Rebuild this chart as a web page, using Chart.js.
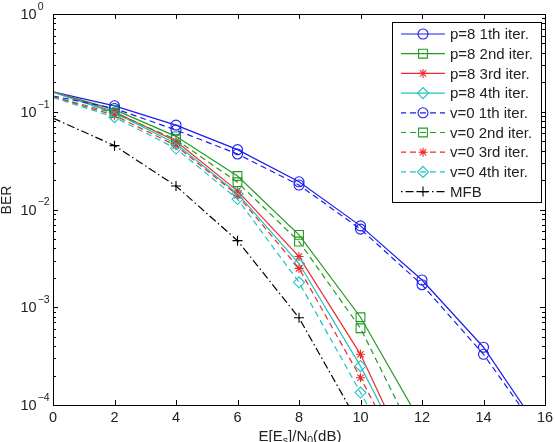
<!DOCTYPE html>
<html>
<head>
<meta charset="utf-8">
<script src="https://cdn.jsdelivr.net/npm/chart.js@4/dist/chart.umd.min.js"></script>
<style>
  html, body { margin: 0; padding: 0; background: #fff; }
  #wrap { width: 555px; height: 442px; }
</style>
</head>
<body>
<div id="wrap"><canvas id="ber"></canvas></div>
<script>
// E[Es]/N0 in dB, one point every 2 dB
const snrDb = [0, 2, 4, 6, 8, 10, 12, 14, 16];

// BER (values under 1e-4 only set the slope leaving the axes)
const p8Iter1 = [0.16, 0.115, 0.073, 0.041, 0.0192, 0.0068, 0.0019, 3.9e-4, 4.6e-5];
const p8Iter2 = [0.16, 0.105, 0.056, 0.022, 0.0055, 7.9e-4, 6.3e-5];
const p8Iter3 = [0.16, 0.100, 0.050, 0.0155, 0.0033, 3.3e-4, 1.5e-5];
const p8Iter4 = [0.158, 0.098, 0.047, 0.0145, 0.0028, 2.5e-4, 1.5e-5];
const v0Iter1 = [0.145, 0.108, 0.065, 0.037, 0.0178, 0.0063, 0.0017, 3.3e-4, 4.3e-5];
const v0Iter2 = [0.142, 0.097, 0.052, 0.019, 0.0047, 6.1e-4, 3.3e-5];
const v0Iter3 = [0.142, 0.092, 0.045, 0.014, 0.0025, 1.9e-4, 1.2e-5];
const v0Iter4 = [0.140, 0.088, 0.042, 0.0128, 0.0018, 1.34e-4, 1.0e-5];
const mfb     = [0.086, 0.045, 0.0174, 0.0048, 7.8e-4, 6.0e-5];

const xTicks = [0, 2, 4, 6, 8, 10, 12, 14, 16];
const yExponents = [0, -1, -2, -3, -4];

const FONT = '"Liberation Sans", Arial, sans-serif';
const BLUE = '#1c1cf0', GREEN = '#249a24', RED = '#f02a2a', CYAN = '#1fc2c2';
const DASH = [6, 4], DASHDOT = [8, 3, 1.5, 3];

function series(label, values, color, dash, style, radius) {
  return {
    label: label,
    data: values.map((v, i) => ({ x: snrDb[i], y: v })),
    borderColor: color,
    borderWidth: 1.2,
    borderDash: dash,
    pointStyle: style,
    pointRadius: c => c.dataIndex === 0 ? 0 : radius,
    pointBorderColor: color,
    pointBackgroundColor: 'rgba(0,0,0,0)',
    pointBorderWidth: 1.1,
    tension: 0
  };
}

const datasets = [
  series('p=8 1th iter.', p8Iter1, BLUE, [], 'circle', 5),
  series('p=8 2nd iter.', p8Iter2, GREEN, [], 'rect', 6.2),
  series('p=8 3rd iter.', p8Iter3, RED, [], 'star', 4.5),
  series('p=8 4th iter.', p8Iter4, CYAN, [], 'rectRot', 5.5),
  series('v=0 1th iter.', v0Iter1, BLUE, DASH, 'circle', 5),
  series('v=0 2nd iter.', v0Iter2, GREEN, DASH, 'rect', 6.2),
  series('v=0 3rd iter.', v0Iter3, RED, DASH, 'star', 4.5),
  series('v=0 4th iter.', v0Iter4, CYAN, DASH, 'rectRot', 5.5),
  series('MFB', mfb, '#000000', DASHDOT, 'cross', 5)
];
// later series on top, as in the original plot
datasets.forEach((d, i) => { d.order = datasets.length - i; });

const axesDecor = {
  id: 'axesDecor',
  afterDraw(chart) {
    const { ctx, chartArea: a, scales: { x, y } } = chart;
    ctx.save();
    ctx.setLineDash([]);
    ctx.strokeStyle = '#000';
    ctx.fillStyle = '#000';
    ctx.lineWidth = 1;

    // ticks pointing inwards on all four sides
    ctx.beginPath();
    xTicks.forEach(t => {
      const px = Math.round(x.getPixelForValue(t)) + 0.5;
      ctx.moveTo(px, a.bottom); ctx.lineTo(px, a.bottom - 5);
      ctx.moveTo(px, a.top); ctx.lineTo(px, a.top + 5);
    });
    for (let e = -4; e <= 0; e++) {
      for (let m = 1; m <= 9; m++) {
        if (e === 0 && m > 1) break;
        const py = Math.round(y.getPixelForValue(m * Math.pow(10, e))) + 0.5;
        const len = m === 1 ? 5 : 3;
        ctx.moveTo(a.left, py); ctx.lineTo(a.left + len, py);
        ctx.moveTo(a.right, py); ctx.lineTo(a.right - len, py);
      }
    }
    ctx.stroke();
    ctx.strokeRect(Math.round(a.left) + 0.5, Math.round(a.top) + 0.5,
                   Math.round(a.right - a.left), Math.round(a.bottom - a.top));

    // x tick labels
    ctx.fillStyle = '#222';
    ctx.font = '14.5px ' + FONT;
    ctx.textAlign = 'center';
    ctx.textBaseline = 'middle';
    xTicks.forEach(t => ctx.fillText(String(t), x.getPixelForValue(t), 418));

    // y tick labels 10^e
    yExponents.forEach(e => {
      const py = y.getPixelForValue(Math.pow(10, e));
      ctx.font = '14.5px ' + FONT;
      ctx.textAlign = 'left';
      ctx.textBaseline = 'middle';
      ctx.fillText('10', 20.5, py + 1);
      const w = ctx.measureText('10').width;
      ctx.font = '10.5px ' + FONT;
      ctx.fillText(e === 0 ? '0' : '\u2212' + Math.abs(e), 20.5 + w + 1, py - 7);
    });

    // x axis title with subscripts
    const parts = [['E[E', 0], ['s', 1], [']/N', 0], ['0', 1], ['(dB)', 0]];
    const big = '15px ' + FONT, small = '10.5px ' + FONT;
    let total = 0;
    parts.forEach(p => {
      ctx.font = p[1] ? small : big;
      total += ctx.measureText(p[0]).width;
    });
    let cx = 300 - total / 2;
    ctx.textAlign = 'left';
    ctx.textBaseline = 'alphabetic';
    parts.forEach(p => {
      ctx.font = p[1] ? small : big;
      ctx.fillText(p[0], cx, p[1] ? 444 : 441);
      cx += ctx.measureText(p[0]).width;
    });

    // y axis title
    ctx.save();
    ctx.translate(11, 200);
    ctx.rotate(-Math.PI / 2);
    ctx.font = '14px ' + FONT;
    ctx.textAlign = 'center';
    ctx.fillText('BER', 0, 0);
    ctx.restore();

    // legend box
    const bx = 392, by = 22, bw = 149, bh = 180;
    ctx.fillStyle = '#fff';
    ctx.fillRect(bx, by, bw, bh);
    ctx.strokeStyle = '#000';
    ctx.strokeRect(bx + 0.5, by + 0.5, bw, bh);
    chart.data.datasets.forEach((d, i) => {
      const ry = 34 + i * 19.7;
      ctx.strokeStyle = d.borderColor;
      ctx.lineWidth = 1.2;
      ctx.setLineDash(d.borderDash);
      ctx.lineDashOffset = d.borderDash.length ? (d.borderDash.length > 2 ? 11 : 1) : 0;
      ctx.beginPath();
      ctx.moveTo(401, ry); ctx.lineTo(445, ry);
      ctx.stroke();
      ctx.setLineDash([]);
      const r = d.pointRadius({ dataIndex: 1 });
      ctx.fillStyle = 'rgba(0,0,0,0)';
      ctx.lineWidth = 1.1;
      Chart.helpers.drawPoint(ctx, { pointStyle: d.pointStyle, rotation: 0, radius: r, borderWidth: 1.1 }, 423, ry);
      ctx.fillStyle = '#222';
      ctx.font = '15px ' + FONT;
      ctx.textAlign = 'left';
      ctx.textBaseline = 'middle';
      ctx.fillText(d.label, 450, ry + 1);
    });
    ctx.restore();
  }
};

new Chart(document.getElementById('ber'), {
  type: 'line',
  data: { datasets: datasets },
  options: {
    responsive: true,
    maintainAspectRatio: false,
    animation: false,
    devicePixelRatio: 1,
    layout: { padding: { left: 53, right: 10, top: 14, bottom: 37 } },
    plugins: { legend: { display: false }, tooltip: { enabled: false } },
    scales: {
      x: { type: 'linear', min: 0, max: 16, display: false },
      y: { type: 'logarithmic', min: 1e-4, max: 1, display: false }
    }
  },
  plugins: [axesDecor]
});
</script>
</body>
</html>
